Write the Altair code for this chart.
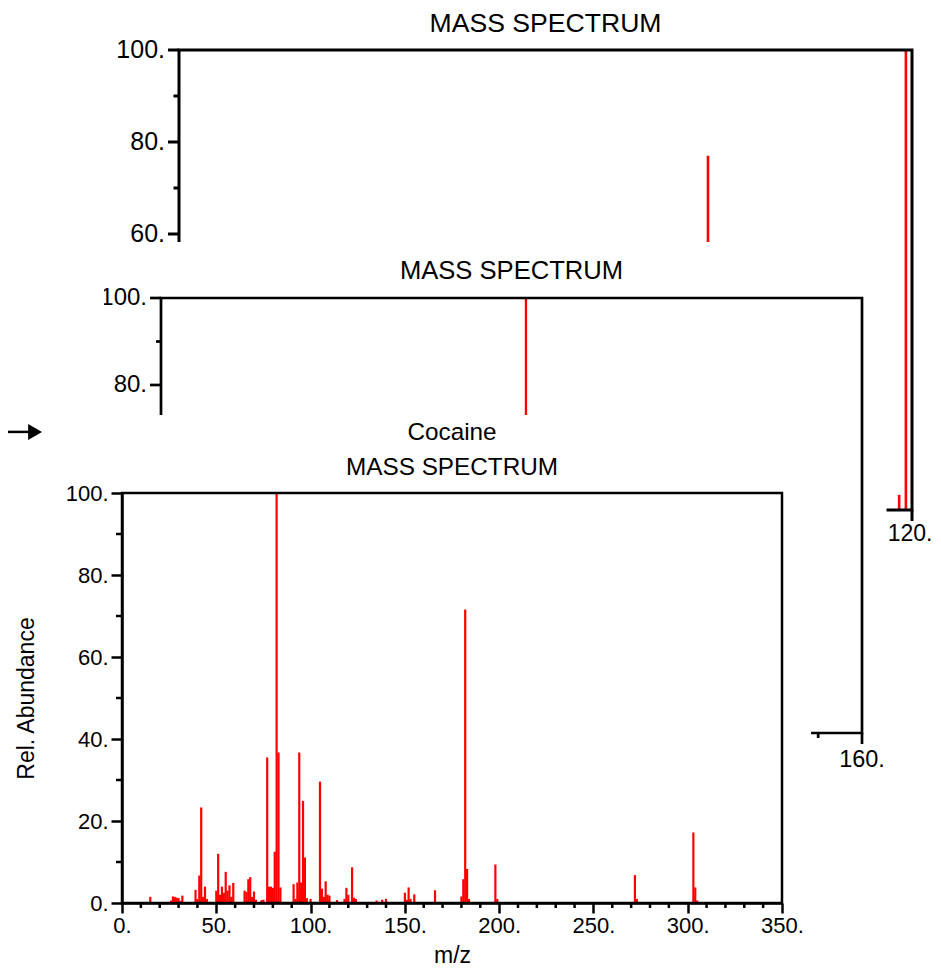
import altair as alt
import pandas as pd

FONT = "Liberation Sans"
RED = "#ff0000"

# ---------------- data ----------------
# Front panel: Cocaine
FRONT_MZ = [15, 26, 27, 28, 29, 30, 31, 32, 39, 40, 41, 42, 43, 44, 45,
            50, 51, 52, 53, 54, 55, 56, 57, 58, 59, 65, 66, 67, 68, 69, 70, 71,
            74, 75, 77, 78, 79, 80, 81, 82, 83, 84, 91, 92, 93, 94, 95, 96, 97, 98,
            100, 105, 106, 107, 108, 109, 110, 114, 118, 119, 120, 122, 123, 124,
            135, 138, 140, 150, 151, 152, 153, 155, 166, 180, 181, 182, 183, 184,
            198, 199, 272, 273, 303, 304, 305]
FRONT_ABUND = [1.5, 0.6, 1.6, 1.5, 1.3, 1.2, 0.5, 1.8, 3.2, 1.0, 6.7, 23.3, 1.5, 4.0, 1.0,
               3.0, 12.0, 2.0, 4.0, 2.5, 7.6, 3.0, 4.3, 1.5, 4.9, 3.0, 2.7, 5.8, 6.3, 1.5, 2.8, 0.8,
               0.7, 0.8, 35.5, 4.0, 4.0, 3.7, 12.5, 100, 36.7, 3.8, 4.6, 1.0, 5.0, 36.7, 5.0, 24.9, 11.1, 1.2,
               1.0, 29.6, 3.5, 1.5, 5.3, 2.0, 1.8, 0.7, 1.0, 3.7, 2.0, 8.7, 1.3, 1.0,
               0.6, 0.8, 1.0, 2.5, 0.8, 3.8, 1.0, 2.1, 3.1, 1.6, 5.8, 71.6, 8.3, 1.0,
               9.4, 1.0, 6.8, 1.0, 17.2, 3.8, 0.6]
assert len(FRONT_MZ) == len(FRONT_ABUND)

# Middle (partly hidden) panel
MID_MZ = [83.3]
MID_ABUND = [100]

# Top (partly hidden) panel
TOP_MZ = [86.6, 117.9, 119.0]
TOP_ABUND = [77, 3.3, 100]

FRONT_XMAX, MID_XMAX, TOP_XMAX = 350, 160, 120
FRONT_X_MAJOR = list(range(0, 351, 50))
FRONT_X_MINOR = [v for v in range(0, 351, 10) if v % 50]
MID_X_MAJOR = list(range(0, 161, 20))
MID_X_MINOR = [v for v in range(0, 161, 10) if v % 20]
TOP_X_MAJOR = list(range(0, 121, 20))
TOP_X_MINOR = [v for v in range(0, 121, 10) if v % 20]
Y_MAJOR = [0, 20, 40, 60, 80, 100]
Y_MINOR = [10, 30, 50, 70, 90]

SPECTRUM_TITLE = "MASS SPECTRUM"
COMPOUND = "Cocaine"
X_TITLE = "m/z"
Y_TITLE = "Rel. Abundance"

# ---------------- layout (pixels relative to the front plot area) ----------------
W, H = 660, 410
TOP_XRANGE, TOP_YRANGE = [57, 790], [17, -443]
MID_XRANGE, MID_YRANGE = [39, 740], [240, -195]

# occluding paper sheets, in each panel's own data units
MID_SHEET = dict(x0=-13.2, x1=165.6, y0=-15, y1=112.9)
FRONT_SHEET = dict(x0=-38.2, x1=365.4, y0=-20, y1=119.0)
FRONT_CROP = dict(x0=-60.5, x1=-9.5, y0=119.0, y1=161.2)
ARROW = dict(x0=-60.45, x1=-48.8, xh=-46.1, y=114.9)


def lab(vals):
    return [f"{v}." for v in vals]


def manual_panel(mz, ab, xmax, xrange, yrange, xmaj, xmin, ylab_fs, xlab_fs, title_fs,
                 title_off, lw, peak_w, tmaj, tmin, xlab_dy, xlab_dx, ylab_dx, sheet=None):
    xs = alt.Scale(domain=[0, xmax], range=xrange, nice=False, zero=False)
    ys = alt.Scale(domain=[0, 100], range=yrange, nice=False, zero=False)

    def X(f):
        return alt.X(f, type="quantitative", scale=xs, axis=None)

    def Y(f):
        return alt.Y(f, type="quantitative", scale=ys, axis=None)

    layers = []
    if sheet is not None:
        layers.append(alt.Chart(pd.DataFrame([sheet])).mark_rect(fill="white", strokeWidth=0)
                      .encode(x=X("x0"), x2="x1", y=Y("y0"), y2="y1"))
    peaks = pd.DataFrame({"mz": mz, "ab": ab, "base": 0})
    layers.append(alt.Chart(peaks).mark_rule(color=RED, strokeWidth=peak_w)
                  .encode(x=X("mz"), y=Y("ab"), y2="base"))
    frame = pd.DataFrame([dict(x0=0, x1=xmax, y0=0, y1=100)])
    layers.append(alt.Chart(frame).mark_rect(fillOpacity=0, stroke="black", strokeWidth=lw)
                  .encode(x=X("x0"), x2="x1", y=Y("y0"), y2="y1"))
    ymaj = pd.DataFrame({"v": Y_MAJOR, "z": 0, "lab": lab(Y_MAJOR)})
    ymin = pd.DataFrame({"v": Y_MINOR, "z": 0})
    xmajd = pd.DataFrame({"v": xmaj, "z": 0, "lab": lab(xmaj)})
    xmind = pd.DataFrame({"v": xmin, "z": 0})
    layers.append(alt.Chart(ymaj).mark_tick(orient="horizontal", size=tmaj, thickness=lw,
                                             color="black", opacity=1, xOffset=-tmaj / 2)
                  .encode(x=X("z"), y=Y("v")))
    layers.append(alt.Chart(ymin).mark_tick(orient="horizontal", size=tmin, thickness=lw,
                                             color="black", opacity=1, xOffset=-tmin / 2)
                  .encode(x=X("z"), y=Y("v")))
    layers.append(alt.Chart(ymaj).mark_text(align="right", baseline="middle", dx=ylab_dx,
                                             font=FONT, fontSize=ylab_fs, color="black")
                  .encode(x=X("z"), y=Y("v"), text="lab:N"))
    layers.append(alt.Chart(xmajd).mark_tick(orient="vertical", size=tmaj, thickness=lw,
                                              color="black", opacity=1, yOffset=tmaj / 2)
                  .encode(x=X("v"), y=Y("z")))
    layers.append(alt.Chart(xmind).mark_tick(orient="vertical", size=tmin, thickness=lw,
                                              color="black", opacity=1, yOffset=tmin / 2)
                  .encode(x=X("v"), y=Y("z")))
    layers.append(alt.Chart(xmajd).mark_text(align="center", baseline="top", dy=xlab_dy,
                                              dx=xlab_dx, font=FONT, fontSize=xlab_fs,
                                              color="black")
                  .encode(x=X("v"), y=Y("z"), text="lab:N"))
    tdf = pd.DataFrame({"x": [xmax / 2], "y": [100], "t": [SPECTRUM_TITLE]})
    layers.append(alt.Chart(tdf).mark_text(baseline="middle", dy=-title_off, font=FONT,
                                            fontSize=title_fs, color="black")
                  .encode(x=X("x"), y=Y("y"), text="t:N"))
    return alt.layer(*layers)


top_panel = manual_panel(TOP_MZ, TOP_ABUND, TOP_XMAX, TOP_XRANGE, TOP_YRANGE,
                         TOP_X_MAJOR, TOP_X_MINOR, ylab_fs=25, xlab_fs=23, title_fs=26.6,
                         title_off=26, lw=3, peak_w=2.6, tmaj=11, tmin=5.5,
                         xlab_dy=13, xlab_dx=-2, ylab_dx=-14)
mid_panel = manual_panel(MID_MZ, MID_ABUND, MID_XMAX, MID_XRANGE, MID_YRANGE,
                         MID_X_MAJOR, MID_X_MINOR, ylab_fs=24, xlab_fs=23.5, title_fs=25.6,
                         title_off=27, lw=2.7, peak_w=2.3, tmaj=11, tmin=5,
                         xlab_dy=15, xlab_dx=0, ylab_dx=-14, sheet=MID_SHEET)

# ---------------- front panel with real axes ----------------
xs_f = alt.Scale(domain=[0, FRONT_XMAX], nice=False, zero=False)
ys_f = alt.Scale(domain=[0, 100], nice=False, zero=False)
AX_COMMON = dict(domainColor="black", domainWidth=2.5, tickColor="black", tickWidth=2.5,
                 labelFont=FONT, labelFontSize=22, labelColor="black", labelFlush=False,
                 labelOverlap=False, labelBound=False, titleFont=FONT, titleFontSize=23,
                 titleFontWeight="normal", titleColor="black", grid=False, zindex=1)
FX_AXIS = alt.Axis(orient="bottom", values=FRONT_X_MAJOR, labelExpr="datum.value + '.'",
                   tickSize=10, labelPadding=2, title=X_TITLE, titlePadding=8, **AX_COMMON)
FY_AXIS = alt.Axis(orient="left", values=Y_MAJOR, labelExpr="datum.value + '.'",
                   tickSize=11, labelPadding=3, title=Y_TITLE, titlePadding=27, **AX_COMMON)


def FX(f):
    return alt.X(f, type="quantitative", scale=xs_f, axis=FX_AXIS)


def FY(f):
    return alt.Y(f, type="quantitative", scale=ys_f, axis=FY_AXIS)


front_layers = []
for sheet in (FRONT_SHEET, FRONT_CROP):
    front_layers.append(alt.Chart(pd.DataFrame([sheet])).mark_rect(fill="white", strokeWidth=0)
                        .encode(x=FX("x0"), x2="x1", y=FY("y0"), y2="y1"))
front_peaks = pd.DataFrame({"mz": FRONT_MZ, "ab": FRONT_ABUND, "base": 0})
front_layers.append(alt.Chart(front_peaks).mark_rule(color=RED, strokeWidth=2.2)
                    .encode(x=FX("mz"), y=FY("ab"), y2="base"))
front_layers.append(alt.Chart(pd.DataFrame([dict(x0=0, x1=FRONT_XMAX, y0=0, y1=100)]))
                    .mark_rect(fillOpacity=0, stroke="black", strokeWidth=2.5)
                    .encode(x=FX("x0"), x2="x1", y=FY("y0"), y2="y1"))
front_layers.append(alt.Chart(pd.DataFrame({"v": FRONT_X_MINOR, "z": 0}))
                    .mark_tick(orient="vertical", size=5, thickness=2.5, color="black",
                               opacity=1, yOffset=2.5)
                    .encode(x=FX("v"), y=FY("z")))
front_layers.append(alt.Chart(pd.DataFrame({"v": Y_MINOR, "z": 0}))
                    .mark_tick(orient="horizontal", size=6, thickness=2.5, color="black",
                               opacity=1, xOffset=-3)
                    .encode(x=FX("z"), y=FY("v")))
titles = pd.DataFrame({"x": [FRONT_XMAX / 2, FRONT_XMAX / 2], "y": [100, 100],
                       "t": [SPECTRUM_TITLE, COMPOUND], "off": [-25, -60]})
for i in range(2):
    front_layers.append(alt.Chart(titles.iloc[[i]]).mark_text(
        baseline="middle", dy=float(titles["off"][i]), font=FONT, fontSize=24.3, color="black")
        .encode(x=FX("x"), y=FY("y"), text="t:N"))
front_layers.append(alt.Chart(pd.DataFrame([ARROW])).mark_rule(color="black", strokeWidth=2.5)
                    .encode(x=FX("x0"), x2="x1", y=FY("y")))
front_layers.append(alt.Chart(pd.DataFrame([ARROW])).mark_point(
    shape="triangle-right", filled=True, size=256, color="black", opacity=1)
    .encode(x=FX("xh"), y=FY("y")))
front_panel = alt.layer(*front_layers)

chart = (
    alt.layer(top_panel, mid_panel, front_panel)
    .resolve_scale(x="independent", y="independent")
    .properties(width=W, height=H, background="white",
                autosize=alt.AutoSizeParams(type="none"),
                padding={"left": 114, "top": 485, "right": 151, "bottom": 64})
    .configure_view(stroke=None)
)

chart.save("out.html", embed_options={"renderer": "svg", "actions": False})
